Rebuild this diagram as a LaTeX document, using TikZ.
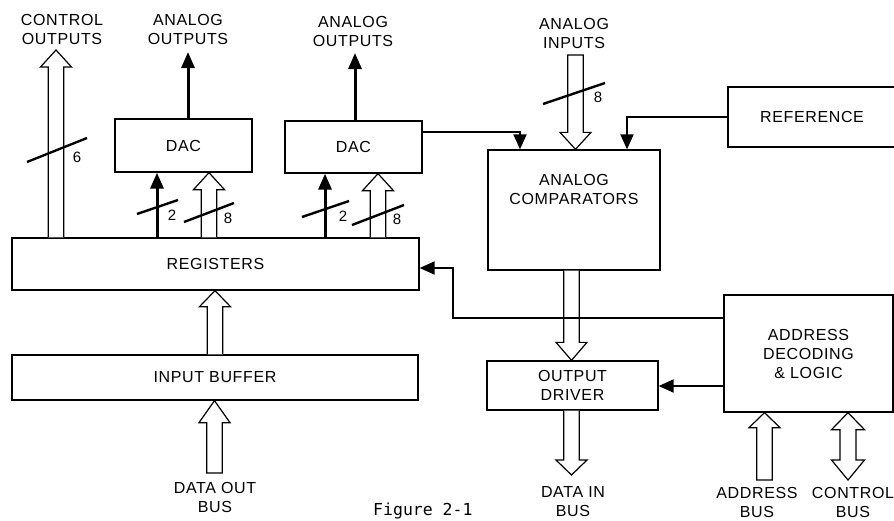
\documentclass[tikz,border=0pt]{standalone}
\usepackage{fontspec}
\usetikzlibrary{arrows.meta,calc}
\newfontfamily\lblfont[LetterSpace=4]{Liberation Sans}
\newfontfamily\figfont{DejaVu Sans Mono}
% hollow bus arrow, open at its start
\newcommand\fatarrow[3][17pt]{%
  \draw[fat] let \p1=(#2), \p2=(#3), \n1={ifthenelse(\y2>\y1,1,-1)} in
  ({\x1-7.75pt},\y1) -- ({\x1-7.75pt},{\y2-(\n1)*#1}) -- ({\x1-15.5pt},{\y2-(\n1)*#1}) -- (\x1,\y2)
  -- ({\x1+15.5pt},{\y2-(\n1)*#1}) -- ({\x1+7.75pt},{\y2-(\n1)*#1}) -- ({\x1+7.75pt},\y1);}
% hollow bus arrow, closed at its start
\newcommand\fatarrowc[3][17pt]{%
  \draw[fat] let \p1=(#2), \p2=(#3), \n1={ifthenelse(\y2>\y1,1,-1)} in
  ({\x1-7.75pt},\y1) -- ({\x1-7.75pt},{\y2-(\n1)*#1}) -- ({\x1-15.5pt},{\y2-(\n1)*#1}) -- (\x1,\y2)
  -- ({\x1+15.5pt},{\y2-(\n1)*#1}) -- ({\x1+7.75pt},{\y2-(\n1)*#1}) -- ({\x1+7.75pt},\y1) -- cycle;}
\begin{document}
\begin{tikzpicture}[x=1pt,y=-1pt,
  lbl/.style={font=\lblfont\fontsize{16}{19}\selectfont, align=center, inner sep=0pt},
  box/.style={draw, line width=1.3pt, inner sep=0pt, lbl},
  wire/.style={line width=2pt, -{Triangle[length=15pt,width=13pt]}},
  stem/.style={line width=3pt, -{Triangle[length=16pt,width=13pt]}},
  fat/.style={draw, line width=1.2pt, fill=white, line join=miter},
  slash/.style={line width=2.4pt},
  num/.style={font=\lblfont\fontsize{15}{16}\selectfont, inner sep=0pt},
  fig/.style={font=\figfont\fontsize{16.5}{18}\selectfont, inner sep=0pt, anchor=base west}]
\useasboundingbox (0,0) rectangle (894,520);
\clip (0,0) rectangle (894,520);

% ---- boxes
\node[box, minimum width=407pt, minimum height=52pt] (reg) at (215.5,264) {REGISTERS};
\node[box, minimum width=406pt, minimum height=45pt] (buf) at (215,377.5) {INPUT BUFFER};
\node[box, minimum width=137pt, minimum height=53pt] (dac1) at (183.5,145.5) {DAC};
\node[box, minimum width=137pt, minimum height=52pt] (dac2) at (353.5,147) {DAC};
\node[box, minimum width=172pt, minimum height=120pt] (comp) at (574,210) {};
\node[lbl] (comptxt) at (574,189.5) {ANALOG\\COMPARATORS};
\node[box, minimum width=180pt, minimum height=60pt] (ref) at (818,117) {};
\node[lbl] (reftxt) at (812,117) {REFERENCE};
\node[box, minimum width=169pt, minimum height=117pt] (adl) at (808.5,353.5) {ADDRESS\\DECODING\\\& LOGIC};
\node[box, minimum width=171pt, minimum height=49pt] (od) at (572.5,385.5) {OUTPUT\\DRIVER};

% ---- outer labels
\node[lbl] (colab) at (62,29) {CONTROL\\OUTPUTS};
\node[lbl] (ao1lab) at (188,29.5) {ANALOG\\OUTPUTS};
\node[lbl] (ao2lab) at (353,31) {ANALOG\\OUTPUTS};
\node[lbl] (ailab) at (574,33) {ANALOG\\INPUTS};
\node[lbl] (dolab) at (215,497) {DATA OUT\\BUS};
\node[lbl] (dilab) at (573,502) {DATA IN\\BUS};
\node[lbl] (ablab) at (757,502) {ADDRESS\\BUS};
\node[lbl] (cblab) at (853,502) {CONTROL\\BUS};
\node[fig] (figlab) at (373,515) {Figure 2-1};

% ---- named points
\coordinate (cot) at (56,50);
\coordinate (ao1t) at (188,52);
\coordinate (ao2t) at (355,53);
\coordinate (d1a) at (157,0);
\coordinate (d1b) at (209,0);
\coordinate (d2a) at (325,0);
\coordinate (d2b) at (378,0);
\coordinate (ait) at (575.5,55);
\coordinate (dcx) at (520,132);
\coordinate (rfx) at (627,0);
\coordinate (odx) at (571.5,0);
\coordinate (dib) at (571.5,475);
\coordinate (bux) at (215,0);
\coordinate (dob) at (214.5,473);
\coordinate (abb) at (764.5,480);
\coordinate (cbb) at (848,480);
\coordinate (k1) at (453,318);
\coordinate (k2) at (453,268);
\coordinate (yo) at (0,386);

% ---- hollow bus arrows
\fatarrow{reg.north -| cot}{cot}
\fatarrow{reg.north -| d1b}{dac1.south -| d1b}
\fatarrow{reg.north -| d2b}{dac2.south -| d2b}
\fatarrowc{ait}{comp.north -| ait}
\fatarrow[18pt]{comp.south -| odx}{od.north -| odx}
\fatarrow[15pt]{od.south -| dib}{dib}
\fatarrow[16pt]{buf.north -| bux}{reg.south -| bux}
\fatarrowc[22pt]{dob}{buf.south -| dob}
\fatarrowc[15pt]{abb}{adl.south -| abb}
\draw[fat] let \p1=(adl.south -| cbb), \p2=(cbb) in
  (\x1,\y1) -- ({\x1-16.5pt},{\y1-17pt}) -- ({\x1-8pt},{\y1-17pt}) -- ({\x1-8pt},{\y2+20pt})
  -- ({\x1-16.5pt},{\y2+20pt}) -- (\x2,\y2) -- ({\x1+16.5pt},{\y2+20pt}) -- ({\x1+8pt},{\y2+20pt})
  -- ({\x1+8pt},{\y1-17pt}) -- ({\x1+16.5pt},{\y1-17pt}) -- cycle;

% ---- single lines
\draw[stem] (dac1.north -| ao1t) -- (ao1t);
\draw[stem] (dac2.north -| ao2t) -- (ao2t);
\draw[stem] (reg.north -| d1a) -- (dac1.south -| d1a);
\draw[stem] (reg.north -| d2a) -- (dac2.south -| d2a);
\draw[wire] (dac2.east |- dcx) -- (dcx) -- (comp.north -| dcx);
\draw[wire] (ref.west) -| (comp.north -| rfx);
\draw[wire] (adl.west |- k1) -- (k1) -- (k2) -- (reg.east |- k2);
\draw[wire] (adl.west |- yo) -- (od.east |- yo);

% ---- bus-width slashes
\draw[slash] (27,162) -- (87,138);
\node[num] (n6) at (77,157) {6};
\draw[slash] (137,214) -- (178,200);
\node[num] (n2a) at (172,215) {2};
\draw[slash] (184,222) -- (234,203);
\node[num] (n8a) at (228,218) {8};
\draw[slash] (302,217) -- (349,201);
\node[num] (n2b) at (343,216) {2};
\draw[slash] (352,225) -- (404,205);
\node[num] (n8b) at (397,219) {8};
\draw[slash] (543,104) -- (605,83);
\node[num] (n8c) at (598,97) {8};
\end{tikzpicture}
\end{document}
